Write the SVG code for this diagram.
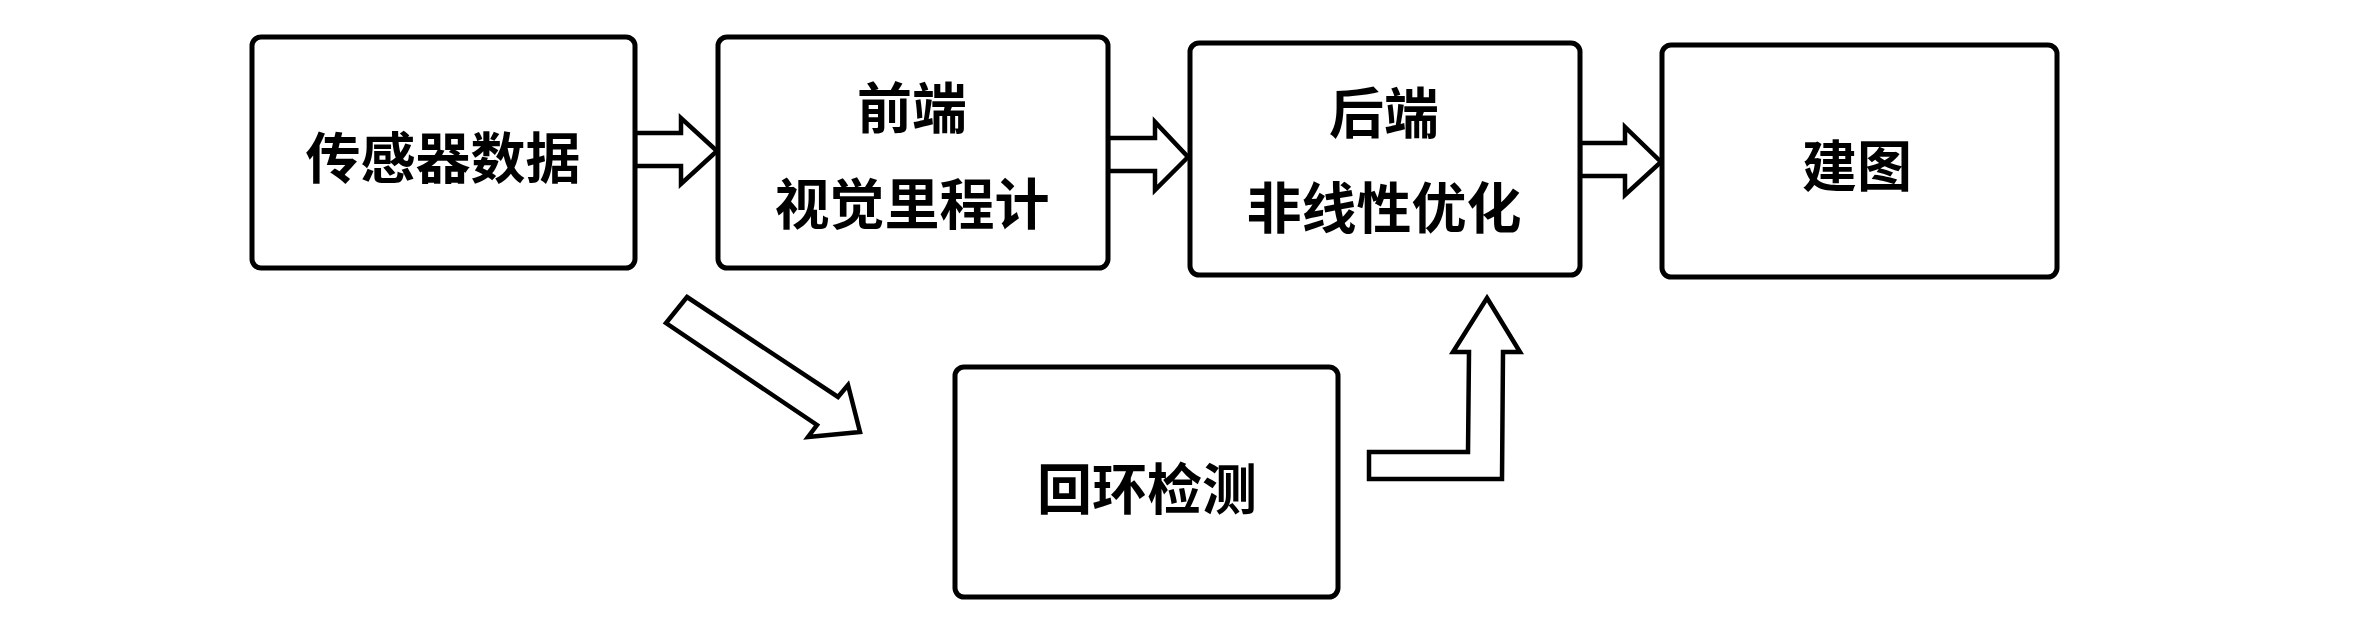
<svg xmlns="http://www.w3.org/2000/svg" width="2356" height="626" viewBox="0 0 2356 626">
<style>
.box{fill:#fff;stroke:#000;stroke-width:5}
.arr{fill:#fff;stroke:#000;stroke-width:4.5;stroke-linejoin:miter}
.t{font-family:"Noto Sans CJK SC","Noto Sans",sans-serif;font-size:55px;font-weight:bold;fill:#000;text-anchor:middle}
</style>
<rect width="2356" height="626" fill="#fff"/>
<g id="connectors">
<polygon class="arr" points="635,133 681,133 681,118 717,151 681,184 681,166 635,166"/>
<polygon class="arr" points="1108,138 1155,138 1155,122 1188,157 1155,190 1155,171 1108,171"/>
<polygon class="arr" points="1580,143 1625,143 1625,127 1661,162 1625,195 1625,176 1580,176"/>
<polygon class="arr" points="687,297 838,397 848,385 860,432 808,437 817,425 666,323"/>
<polygon class="arr" points="1487,298 1520,352 1503,352 1502,479 1369,479 1369,452 1468,452 1469,352 1453,352"/>
</g>
<g id="node-sensor">
<rect class="box" x="252" y="37" width="383" height="231" rx="9"/>
<text class="t" x="443" y="178">传感器数据</text>
</g>
<g id="node-frontend">
<rect class="box" x="718" y="37" width="390" height="231" rx="9"/>
<text class="t" x="912" y="128">前端</text>
<text class="t" x="912" y="224">视觉里程计</text>
</g>
<g id="node-backend">
<rect class="box" x="1190" y="43" width="390" height="232" rx="9"/>
<text class="t" x="1384" y="133">后端</text>
<text class="t" x="1384" y="228">非线性优化</text>
</g>
<g id="node-mapping">
<rect class="box" x="1662" y="45" width="395" height="232" rx="9"/>
<text class="t" x="1857" y="186">建图</text>
</g>
<g id="node-loop">
<rect class="box" x="955" y="367" width="383" height="230" rx="9"/>
<text class="t" x="1147" y="509">回环检测</text>
</g>
</svg>
